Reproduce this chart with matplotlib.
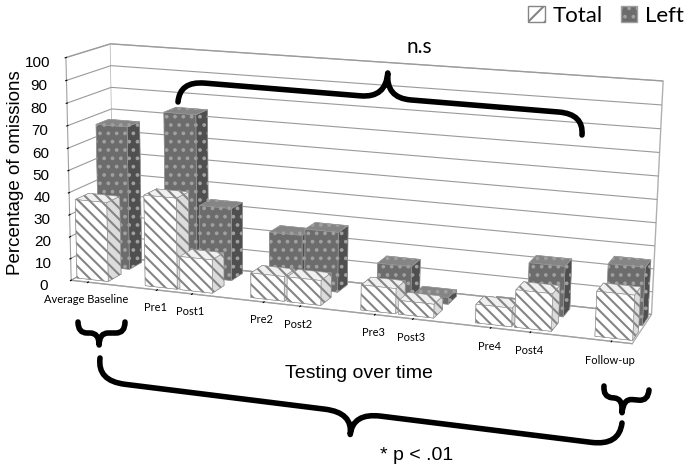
import numpy as np
import matplotlib
matplotlib.use("Agg")
import matplotlib.pyplot as plt
from matplotlib.patches import Patch, PathPatch
from matplotlib.path import Path

# sessions on the x axis; blank entries are the empty slots between sessions
sessions = ["Average Baseline", "", "Pre1", "Post1", "", "Pre2", "Post2", "",
            "Pre3", "Post3", "", "Pre4", "Post4", "", "Follow-up"]
total_pct = [36, None, 41, 15, None, 11, 11, None, 11, 6, None, 8, 16, None, 19]
left_pct = [66, None, 74, 33, None, 24, 27, None, 15, 3, None, 2, 22, None, 25]
series = ["Total", "Left"]
pct_ticks = list(range(0, 101, 10))

W, H = 686, 475
ARIAL = ["Liberation Sans", "DejaVu Sans"]
CALIBRI = ["Lato", "DejaVu Sans"]

plt.rcParams["hatch.linewidth"] = 1.5


def px(x, y):
    return x / W, 1 - y / H


def brace(fig, p0, p1, h_arm, h_tip, r=20, t=0.5, up=True, lw=4.0):
    p0 = np.asarray(p0, float)
    p1 = np.asarray(p1, float)
    d = p1 - p0
    L = np.hypot(*d)
    eu = d / L
    ev = np.array([eu[1], -eu[0]])
    if not up:
        ev = -ev
    tc = t * L
    local = [(0, 0), (0, h_arm), (r, h_arm), (tc - r, h_arm),
             (tc, h_arm), (tc, h_tip), (tc, h_arm), (tc + r, h_arm),
             (L - r, h_arm), (L, h_arm), (L, 0)]
    codes = [Path.MOVETO, Path.CURVE3, Path.CURVE3, Path.LINETO,
             Path.CURVE3, Path.CURVE3, Path.CURVE3, Path.CURVE3,
             Path.LINETO, Path.CURVE3, Path.CURVE3]
    verts = [px(*(p0 + u * eu + v * ev)) for u, v in local]
    fig.add_artist(PathPatch(Path(verts, codes), transform=fig.transFigure,
                             facecolor="none", edgecolor="black", lw=lw,
                             capstyle="round", joinstyle="round"))


fig = plt.figure(figsize=(W / 100, H / 100), dpi=100)
# the 3d axes is kept square, so a big square box sets the chart size
side = 622
cx, cy = 347, 193
ax = fig.add_axes([(cx - side / 2) / W, 1 - (cy + side / 2) / H, side / W, side / H],
                  projection="3d", computed_zorder=False)
ax.set_proj_type("persp", focal_length=0.55)
ax.view_init(elev=13, azim=-71, roll=-0.7)
ax.set_box_aspect((0.94, 0.16, 0.374))

slots = np.arange(len(sessions))
bar_w = 0.92


def draw_row(values, y0, depth, faces, hatch, hatch_color, z):
    idx = [i for i, v in enumerate(values) if v is not None]
    xs = slots[idx] - bar_w / 2
    hs = np.array([values[i] for i in idx], float)
    colors = [c for _ in idx for c in faces]
    with plt.rc_context({"hatch.color": hatch_color}):
        coll = ax.bar3d(xs, np.full(len(idx), y0), np.zeros(len(idx)),
                        bar_w, depth, hs, color=colors, shade=False,
                        edgecolor=hatch_color, linewidth=0.4, hatch=hatch)
    coll.set_zorder(z)


# face order in bar3d: bottom, top, front, back, left, right
draw_row(left_pct, 1.2, 0.6,
         ["#6a6a6a", "#858585", "#6c6c6c", "#6a6a6a", "#6a6a6a", "#4f4f4f"],
         "..", "#a0a0a0", 1)
draw_row(total_pct, 0.2, 0.6,
         ["white", "#f0f0f0", "white", "white", "white", "#dcdcdc"],
         "\\\\\\", "#858585", 2)

ax.set_xlim(-0.5, len(sessions) - 0.5)
ax.set_ylim(0, 2)
ax.set_zlim(0, 100)

ticks = [i for i, s in enumerate(sessions) if s]
ax.set_xticks(ticks)
ax.set_xticklabels([sessions[i] for i in ticks], fontsize=8, family=CALIBRI)
ax.set_yticks([])
ax.set_zticks(pct_ticks)
ax.set_zticklabels([str(v) for v in pct_ticks], fontsize=11, family=ARIAL)
ax.zaxis.set_ticks_position("lower")

for axis in (ax.xaxis, ax.yaxis, ax.zaxis):
    axis.set_pane_color((1, 1, 1, 1))
    axis.pane.set_edgecolor("#b0b0b0")
    axis.line.set_color("#a0a0a0")
ax.yaxis.line.set_visible(False)
ax.xaxis._axinfo["grid"]["color"] = (1, 1, 1, 0)
ax.yaxis._axinfo["grid"]["color"] = (1, 1, 1, 0)
ax.zaxis._axinfo["grid"]["color"] = "#9a9a9a"
ax.zaxis._axinfo["grid"]["linewidth"] = 0.8

fig.text(*px(16, 173), "Percentage of omissions", rotation=90, fontsize=13.5,
         family=ARIAL, ha="center", va="center")
fig.text(*px(359, 373), "Testing over time", fontsize=14, family=ARIAL,
         ha="center", va="center")
fig.text(*px(417, 455), "* p < .01", fontsize=14, family=ARIAL,
         ha="center", va="center")
fig.text(*px(419, 47), "n.s", fontsize=15, family=CALIBRI,
         ha="center", va="center")

handles = [Patch(facecolor="white", edgecolor="#858585", hatch="//"),
           Patch(facecolor="#6c6c6c", edgecolor="#a0a0a0", hatch="..")]
fig.legend(handles, series, loc="upper right", bbox_to_anchor=px(693, -3),
           borderaxespad=0, ncol=2, frameon=False,
           prop={"family": CALIBRI, "size": 16},
           handlelength=0.75, handleheight=0.75, handletextpad=0.35,
           columnspacing=0.8)

brace(fig, (178, 102), (582, 135), 21, 46, r=25, t=0.51, up=True)
brace(fig, (100, 358), (622, 423), 23, 45, r=28, t=0.49, up=False)
brace(fig, (78, 322), (125, 322), 11, 23, r=9, t=0.45, up=False)
brace(fig, (604, 386), (649, 390), 11, 25, r=9, t=0.45, up=False)

fig.savefig("out.png", dpi=100)
